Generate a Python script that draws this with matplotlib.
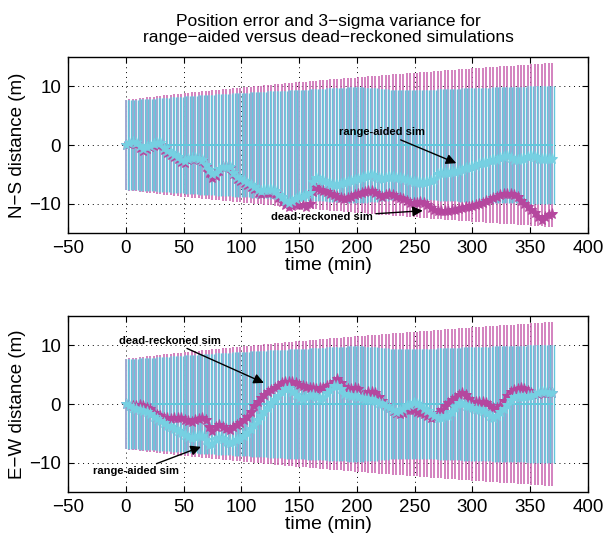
import numpy as np
import matplotlib.pyplot as plt

plt.rcParams['font.family'] = ['Liberation Sans', 'DejaVu Sans']

# time samples (min), one every 3 minutes
t = np.arange(0, 370, 3)

# 3-sigma bounds (m)
dr_sigma = [7.70, 7.77, 7.84, 7.91, 7.98, 8.05, 8.12, 8.19, 8.26, 8.32, 8.39, 8.46, 8.52, 8.59, 8.65,
            8.71, 8.78, 8.84, 8.90, 8.97, 9.03, 9.09, 9.15, 9.21, 9.27, 9.33, 9.39, 9.45, 9.51, 9.57,
            9.62, 9.68, 9.74, 9.79, 9.85, 9.91, 9.96, 10.02, 10.07, 10.13, 10.18, 10.24, 10.29, 10.35,
            10.40, 10.45, 10.51, 10.56, 10.61, 10.66, 10.71, 10.77, 10.82, 10.87, 10.92, 10.97, 11.02,
            11.07, 11.12, 11.17, 11.22, 11.27, 11.32, 11.37, 11.42, 11.47, 11.51, 11.56, 11.61, 11.66,
            11.70, 11.75, 11.80, 11.85, 11.89, 11.94, 11.99, 12.03, 12.08, 12.12, 12.17, 12.22, 12.26,
            12.31, 12.35, 12.40, 12.44, 12.48, 12.53, 12.57, 12.62, 12.66, 12.71, 12.75, 12.79, 12.84,
            12.88, 12.92, 12.96, 13.01, 13.05, 13.09, 13.13, 13.18, 13.22, 13.26, 13.30, 13.34, 13.39,
            13.43, 13.47, 13.51, 13.55, 13.59, 13.63, 13.67, 13.71, 13.75, 13.79, 13.83, 13.87, 13.91,
            13.95, 13.99]
ra_sigma = [7.60, 7.64, 7.68, 7.72, 7.76, 7.80, 7.84, 7.88, 7.92, 7.96, 8.00, 8.04, 8.08, 8.12, 8.16,
            8.20, 8.24, 8.28, 8.32, 8.37, 8.42, 8.46, 8.50,
            8.53, 8.56, 8.60, 8.63, 8.66, 8.70, 8.73, 8.76, 8.80, 8.83, 8.86, 8.90, 8.93, 8.96, 9.00,
            9.03, 9.06, 9.10, 9.13, 9.16, 9.20, 9.23, 9.26, 9.29,
            9.31, 9.34, 9.37, 9.40, 9.43, 9.46, 9.49, 9.52, 9.55, 9.58,
            9.61, 9.64, 9.67, 9.70, 9.73, 9.76, 9.79, 9.82, 9.85, 9.88, 9.90,
            9.85, 9.80, 9.75, 9.70, 9.65, 9.60, 9.55, 9.50, 9.45, 9.42, 9.40,
            9.38, 9.37, 9.36, 9.38, 9.40, 9.42, 9.40, 9.38, 9.40,
            9.43, 9.45, 9.48, 9.50, 9.53, 9.55, 9.58, 9.60, 9.63, 9.65, 9.67, 9.69, 9.70,
            9.72, 9.74, 9.76, 9.78, 9.80, 9.82, 9.84, 9.86, 9.88, 9.90,
            9.91, 9.92, 9.93, 9.95, 9.96, 9.98, 10.00, 10.02, 10.04, 10.06, 10.08, 10.09, 10.10]

# N-S position error (m)
ns_dr = [0.0, 0.2, 0.4, 0.2, -0.5, -1.1, -0.7, -0.3, -0.1, 0.1, 0.0, -0.8, -1.4, -1.7, -2.0, -2.4,
         -2.9, -3.1, -2.6, -2.3, -2.4, -2.6, -2.8, -3.7, -4.8, -5.7, -5.2, -4.4, -3.8, -3.7, -4.0,
         -5.0, -5.8, -6.1, -6.5, -6.8, -7.1, -7.5, -8.2, -8.4, -8.2, -8.1, -8.2, -8.4, -9.1, -9.7,
         -10.2, -10.5, -10.4, -10.3, -10.2, -10.3, -10.5, -10.1, -8.0, -7.2, -7.6, -7.8, -8.0, -8.3,
         -8.5, -8.8, -9.0, -9.2, -9.1, -8.8, -8.5, -8.4, -8.2, -8.0, -7.8, -7.8, -8.1, -8.5, -8.8,
         -8.6, -8.4, -8.5, -8.8, -9.0, -9.2, -9.5, -9.8, -9.9, -9.8, -9.7, -9.8, -10.3, -10.8, -11.1,
         -11.2, -11.3, -11.3, -11.2, -11.1, -11.0, -10.9, -10.7, -10.6, -10.5, -10.4, -10.2, -10.1,
         -9.9, -9.6, -9.3, -9.1, -8.9, -8.6, -8.4, -8.3, -8.3, -8.5, -8.9, -9.5, -10.0, -10.6, -11.0,
         -11.6, -12.2, -12.7, -12.3, -11.9, -11.7]
ns_ra = [0.0, 0.3, 0.5, 0.4, -0.2, -0.6, -0.4, -0.1, 0.1, 0.3, 0.3, -0.5, -1.1, -1.4, -1.7, -2.1,
         -2.6, -2.8, -2.4, -2.2, -2.2, -2.4, -2.6, -3.4, -4.3, -5.0, -4.7, -4.1, -3.8, -3.7, -3.8,
         -4.7, -5.4, -5.8, -6.2, -6.5, -6.8, -7.1, -7.7, -7.8, -7.6, -7.6, -7.7, -7.9, -8.5, -8.9,
         -9.5, -9.9, -9.5, -9.2, -8.9, -8.8, -8.5, -8.2, -6.3, -5.7, -6.0, -6.2, -6.5, -6.7, -6.8,
         -6.9, -6.7, -6.5, -6.3, -6.1, -5.9, -5.8, -5.6, -5.4, -5.2, -5.1, -5.4, -5.7, -5.8, -5.6,
         -5.5, -5.5, -5.6, -5.7, -5.8, -6.0, -6.2, -6.3, -6.3, -6.4, -6.4, -6.3, -6.2, -6.0, -5.0,
         -4.8, -4.8, -4.7, -4.6, -4.6, -4.4, -4.2, -4.0, -3.9, -3.7, -3.5, -3.2, -3.1, -3.0, -2.8,
         -2.6, -2.5, -2.2, -2.0, -1.9, -2.2, -2.5, -2.5, -2.4, -2.4, -2.1, -1.9, -2.0, -2.3, -2.4,
         -2.3, -2.4, -2.3]

# E-W position error (m)
ew_dr = [0.0, -0.3, -0.4, -0.3, -0.1, -0.3, -0.6, -0.9, -1.5, -1.9, -2.1, -2.3, -2.4, -2.5, -2.4,
         -2.3, -2.4, -2.7, -2.9, -3.0, -2.8, -2.5, -2.4, -2.8, -4.0, -4.6, -3.9, -3.6, -3.9, -4.3,
         -4.4, -4.0, -3.5, -3.2, -2.8, -2.2, -1.3, -0.3, 0.4, 1.0, 1.6, 2.1, 2.4, 2.7, 3.1, 3.5, 3.7,
         3.8, 3.8, 3.6, 3.3, 3.1, 2.9, 2.8, 2.7, 2.6, 2.7, 2.8, 3.0, 3.2, 3.7, 4.2, 3.6, 2.9, 2.5,
         2.5, 2.7, 2.5, 1.4, 1.5, 2.0, 2.1, 1.8, 1.2, 0.5, -0.1, -0.7, -1.2, -1.6, -1.7, -1.5, -1.1,
         -1.0, -1.1, -1.4, -1.6, -1.7, -2.0, -2.4, -2.2, -1.6, -1.0, -0.4, 0.1, 0.6, 1.0, 1.5, 1.8,
         1.5, 0.8, 0.4, 0.3, 0.4, 0.3, 0.1, -0.3, -0.6, -0.7, -0.3, 0.5, 1.3, 2.0, 2.4, 2.6, 2.7,
         2.6, 2.2, 1.8, 1.6, 1.7, 1.9, 1.8, 1.8, 1.9]
ew_ra = [0.0, -0.4, -0.7, -0.9, -1.0, -1.2, -1.4, -1.7, -2.2, -2.6, -2.9, -3.3, -3.7, -4.0, -4.3,
         -4.6, -4.9, -5.2, -5.6, -5.8, -5.6, -5.4, -5.5, -6.2, -7.0, -6.8, -6.0, -5.8, -6.0, -6.4,
         -6.6, -6.5, -6.2, -5.9, -5.5, -5.0, -4.3, -3.5, -2.7, -2.0, -1.3, -0.6, 0.1, 0.7, 1.4, 2.1,
         2.5, 2.7, 2.0, 1.5, 1.1, 0.9, 1.2, 1.4, 1.5, 1.2, 0.8, 1.0, 1.8, 2.4, 3.0, 3.1, 2.5, 1.7,
         1.5, 1.4, 1.3, 1.2, 1.1, 0.9, 0.8, 0.7, 0.5, 0.2, 0.0, -0.3, -0.7, -1.0, -1.3, -1.2, -0.8,
         -0.4, -0.1, 0.2, 0.0, -0.4, -0.8, -1.2, -1.7, -2.1, -2.4, -2.3, -2.1, -2.0, -1.3, -0.5, 0.1,
         0.0, -0.3, -0.4, -0.6, -0.8, -1.0, -1.2, -1.6, -2.1, -2.4, -2.0, -1.4, -0.8, -0.2, 0.6, 1.2,
         1.3, 1.2, 1.2, 1.3, 1.4, 1.6, 1.9, 2.1, 2.0, 1.9, 1.8]

pink = '#c860ae'
pink_in = '#9cadd4'   # pink bar seen through the cyan band
cyan = '#62c7dc'


def draw_panel(ax, dr, ra, ylabel):
    dr_s = np.array(dr_sigma)
    ra_s = np.array(ra_sigma)
    ax.vlines(t, -dr_s, dr_s, color=pink, lw=1.1)
    ax.vlines(t, -ra_s, ra_s, color=pink_in, lw=1.3)
    ax.vlines(t + 1.5, -ra_s, ra_s, color=cyan, lw=1.0)
    ax.plot(t, np.zeros(len(t)), color=cyan, lw=1.4)
    ax.plot(t, dr, '*', color='#b5479e', ms=8, mew=0.7, ls='none')
    ax.plot(t, ra, '*', color='#76d0e2', ms=8, mew=0.7, ls='none')
    ax.set_xlim(-50, 400)
    ax.set_ylim(-15, 15)
    ax.set_xticks(range(-50, 401, 50))
    ax.set_yticks([-10, 0, 10])
    ax.grid(True, linestyle=(0, (1, 4)), color='k', lw=0.7)
    ax.set_axisbelow(True)
    ax.tick_params(direction='in', top=True, right=True, labelsize=13.5, length=4, pad=5)
    ax.set_xlabel('time (min)', fontsize=14, labelpad=0)
    ax.set_ylabel(ylabel, fontsize=13.5, labelpad=2)
    for s in ax.spines.values():
        s.set_linewidth(1.0)


fig = plt.figure(figsize=(6.03, 5.37), dpi=100)
ax1 = fig.add_axes([0.1128, 0.5661, 0.8624, 0.3277])
ax2 = fig.add_axes([0.1128, 0.0838, 0.8624, 0.3277])

draw_panel(ax1, ns_dr, ns_ra, 'N\u2212S distance (m)')
draw_panel(ax2, ew_dr, ew_ra, 'E\u2212W distance (m)')

ax1.set_title('Position error and 3\u2212sigma variance for\nrange\u2212aided versus dead\u2212reckoned simulations',
              fontsize=12.5, pad=11, linespacing=1.1)

arrow = dict(arrowstyle='-|>', color='k', lw=1.0, mutation_scale=15, shrinkA=0, shrinkB=0)
ax1.annotate('range-aided sim', xy=(286, -3.1), xytext=(259, 2.2), fontsize=8, fontweight='bold',
             ha='right', va='center', arrowprops=arrow)
ax1.annotate('dead-reckoned sim', xy=(257, -11.2), xytext=(214, -12.3), fontsize=8, fontweight='bold',
             ha='right', va='center', arrowprops=arrow)
ax2.annotate('dead-reckoned sim', xy=(119.5, 3.6), xytext=(82, 10.8), fontsize=8, fontweight='bold',
             ha='right', va='center', arrowprops=arrow)
ax2.annotate('range-aided sim', xy=(65, -7.3), xytext=(46, -11.5), fontsize=8, fontweight='bold',
             ha='right', va='center', arrowprops=arrow)

fig.savefig('out.png', dpi=100)
